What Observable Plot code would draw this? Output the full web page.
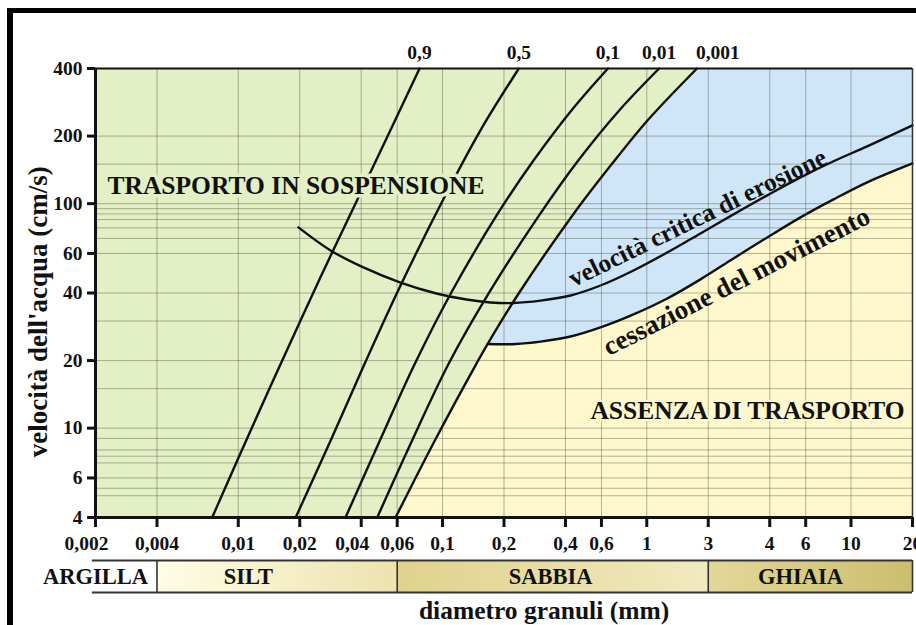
<!DOCTYPE html>
<html><head><meta charset="utf-8">
<script src="https://cdn.jsdelivr.net/npm/d3@7"></script>
<script src="https://cdn.jsdelivr.net/npm/@observablehq/plot@0.6"></script>
<style>
html,body{margin:0;padding:0;background:#fff;}
#wrap{position:relative;width:916px;height:625px;overflow:hidden;background:#fff;}
#wrap svg{display:block;}
#border{position:absolute;left:7px;top:8px;width:2000px;height:2000px;border-left:6px solid #000;border-top:5px solid #000;pointer-events:none;}
</style></head><body><div id="wrap"><div id="border"></div></div>
<script>
// ---------- data ----------
const xTickValues = [0.002, 0.004, 0.01, 0.02, 0.04, 0.06, 0.1, 0.2, 0.4, 0.6, 1, 2, 4, 6, 10, 20];
const xTickLabels = ["0,002", "0,004", "0,01", "0,02", "0,04", "0,06", "0,1", "0,2", "0,4", "0,6", "1", "3", "4", "6", "10", "20"];
const yTickValues = [4, 6, 10, 20, 40, 60, 100, 200, 400];
const yTickLabels = ["4", "6", "10", "20", "40", "60", "100", "200", "400"];
const gridX = [0.004, 0.01, 0.02, 0.04, 0.06, 0.1, 0.2, 0.4, 0.6, 1, 2, 4, 6, 10];
const gridY = [200, 150, 100, 95, 90, 85, 78, 70, 60, 40, 30, 20, 15, 10, 9, 8, 7.5, 7, 6, 5.4, 5];

// settling lines (labelled 0,9 ... 0,001)
const line09X = [0.00745, 0.01208, 0.02015, 0.02913, 0.04486, 0.0772];
const line09Y = [4, 10.8, 30.1, 61.9, 140.8, 400];
const line05X = [0.0191, 0.0283, 0.0415, 0.0623, 0.1023, 0.1534, 0.2364];
const line05Y = [4, 8.79, 19.3, 43.2, 107, 212.2, 400];
const line01X = [0.0335, 0.0493, 0.0731, 0.1096, 0.1863, 0.2795, 0.4286, 0.6454];
const line01Y = [4, 8.79, 19.3, 39.7, 90.2, 156, 260.7, 400];
const line001X = [0.0479, 0.0709, 0.1070, 0.1679, 0.2932, 0.4628, 0.7345, 1.149];
const line001Y = [4, 8.79, 19.3, 39.7, 87.1, 156, 260.7, 400];
const line0001X = [0.0589, 0.0916, 0.1462, 0.1662, 0.2355, 0.4389, 0.6775, 1.0106, 1.761];
const line0001Y = [4, 8.79, 19.3, 23.7, 39.7, 90.2, 150.8, 235.2, 400];
const topLabels = ["0,9", "0,5", "0,1", "0,01", "0,001"];

// velocità critica di erosione
const erosionX = [0.0197, 0.0283, 0.0410, 0.0623, 0.0934, 0.1310, 0.1718, 0.2226, 0.3018, 0.4234, 0.5938, 0.861, 1.259, 1.832, 2.658, 3.888, 5.66, 8.21, 12.0, 20];
const erosionY = [78.4, 61.9, 52.0, 44.5, 39.8, 37.4, 36.3, 36.1, 37.0, 39.0, 43.2, 50.4, 60.6, 73.7, 89.6, 108.9, 131.0, 154.5, 180.0, 223.4];
// cessazione del movimento
const cessX = [0.1662, 0.2278, 0.3018, 0.4234, 0.5938, 0.861, 1.259, 1.832, 2.658, 3.888, 5.66, 8.21, 12.0, 20];
const cessY = [23.7, 23.7, 24.3, 25.6, 28.1, 32.1, 37.8, 46.0, 57.0, 70.7, 86.9, 104.5, 124.5, 151.2];

const regionLabels = ["TRASPORTO IN SOSPENSIONE", "ASSENZA DI TRASPORTO"];
const regionLabelX = [0.00229, 18.3];
const regionLabelY = [120, 11.9];
const curveLabels = ["velocità critica di erosione", "cessazione del movimento"];
const curveLabelX = [1.772, 2.75];
const curveLabelY = [86.5, 45.0];
const curveLabelAngle = [-26, -27];

const bandNames = ["ARGILLA", "SILT", "SABBIA", "GHIAIA"];
const bandEdges = [0.002, 0.004, 0.06, 2, 20];
const bandLabelX = [0.002, 0.0112, 0.338, 5.66];
const yLabel = "velocità dell'acqua (cm/s)";
const yLabelPos = 33;
const xLabel = "diametro granuli (mm)";
const xLabelPos = 0.314;

// ---------- style ----------
const FONT = '"Liberation Serif","Times New Roman",serif';
const GREEN = "#e3efc4", BLUE = "#cfe6f9", CREAM = "#fff8cc", INK = "#111";
const pts = (xs, ys) => xs.map((x, i) => [x, ys[i]]);

const blueX = [...line0001X.slice(3), 20, ...cessX.slice().reverse()];
const blueY = [...line0001Y.slice(3), 400, ...cessY.slice().reverse()];
const creamX = [...line0001X.slice(0, 4), ...cessX.slice(1), 20];
const creamY = [...line0001Y.slice(0, 4), ...cessY.slice(1), 4];

const lines = [[line09X, line09Y], [line05X, line05Y], [line01X, line01Y], [line001X, line001Y], [line0001X, line0001Y]];
const lineStyle = {stroke: INK, strokeWidth: 2.4, curve: "catmull-rom"};
const gridStyle = {stroke: "#4a5240", strokeOpacity: 0.42, strokeWidth: 1};
const txt = {fontWeight: "bold", fill: INK};
const last = a => a[a.length - 1];
const shifted = new Set(["0,002", "0,04"]);
const xLab = xTickLabels.map((t, i) => ({t, x: xTickValues[i]}));

const chart = Plot.plot({
  width: 916, height: 556,
  marginLeft: 95, marginRight: 4, marginTop: 68, marginBottom: 39,
  style: {fontFamily: FONT, fontWeight: "bold", fontSize: "19px", color: INK, background: "transparent"},
  x: {type: "log", domain: [0.002, 20]},
  y: {type: "log", domain: [4, 400]},
  marks: [
    Plot.frame({fill: GREEN, stroke: "none"}),
    Plot.line(pts(blueX, blueY), {fill: BLUE, stroke: "none"}),
    Plot.line(pts(creamX, creamY), {fill: CREAM, stroke: "none"}),
    Plot.ruleX(gridX, gridStyle),
    Plot.ruleY(gridY, gridStyle),
    ...lines.map(([xs, ys]) => Plot.line(pts(xs, ys), lineStyle)),
    Plot.line(pts(erosionX, erosionY), lineStyle),
    Plot.line(pts(cessX, cessY), lineStyle),
    Plot.text(topLabels.slice(0, 4), {x: lines.slice(0, 4).map(([xs]) => last(xs)), y: lines.slice(0, 4).map(([, ys]) => last(ys)), dy: -16, fontSize: 19.5, ...txt}),
    Plot.text(topLabels.slice(4), {x: [last(line0001X)], y: [last(line0001Y)], dy: -16, dx: -1, textAnchor: "start", fontSize: 19.5, ...txt}),
    Plot.text([regionLabels[0]], {x: [regionLabelX[0]], y: [regionLabelY[0]], textAnchor: "start", fontSize: 25.5, ...txt, stroke: GREEN, strokeWidth: 7, paintOrder: "stroke"}),
    Plot.text([regionLabels[1]], {x: [regionLabelX[1]], y: [regionLabelY[1]], textAnchor: "end", fontSize: 25.5, ...txt, stroke: CREAM, strokeWidth: 4, paintOrder: "stroke"}),
    Plot.text([curveLabels[0]], {x: [curveLabelX[0]], y: [curveLabelY[0]], rotate: curveLabelAngle[0], fontSize: 25.5, ...txt}),
    Plot.text([curveLabels[1]], {x: [curveLabelX[1]], y: [curveLabelY[1]], rotate: curveLabelAngle[1], fontSize: 27, ...txt}),
    Plot.text([yLabel], {y: [yLabelPos], frameAnchor: "left", textAnchor: "middle", lineAnchor: "middle", rotate: -90, dx: -57, fontSize: 27, ...txt}),
    Plot.ruleX([20], {stroke: "#333", strokeWidth: 1.5}),
    Plot.ruleY([400], {stroke: INK, strokeWidth: 2.2}),
    Plot.ruleX([0.002], {stroke: INK, strokeWidth: 3}),
    Plot.ruleY([4], {stroke: INK, strokeWidth: 3}),
    Plot.axisX(xTickValues, {tickFormat: () => "", tickSize: 10, strokeWidth: 3, label: null}),
    Plot.axisY(yTickValues, {tickFormat: () => "", tickSize: 8, strokeWidth: 3, label: null}),
    Plot.text(xLab.filter(d => !shifted.has(d.t)), {x: "x", text: "t", frameAnchor: "bottom", lineAnchor: "middle", dy: 26, fontSize: 19.5, ...txt}),
    Plot.text(xLab.filter(d => shifted.has(d.t)), {x: "x", text: "t", frameAnchor: "bottom", lineAnchor: "middle", dy: 26, dx: -9, fontSize: 19.5, ...txt}),
    Plot.text(yTickLabels, {y: yTickValues, frameAnchor: "left", textAnchor: "end", lineAnchor: "middle", dx: -13, fontSize: 19.5, ...txt})
  ]
});

const bandFills = [null, "url(#gSilt)", "url(#gSabbia)", "url(#gGhiaia)"];
const band = Plot.plot({
  width: 916, height: 69,
  marginLeft: 95, marginRight: 4, marginTop: 4, marginBottom: 33,
  style: {fontFamily: FONT, fontWeight: "bold", fontSize: "22px", color: INK, background: "transparent"},
  x: {type: "log", domain: [0.002, 20], axis: null},
  y: {domain: [0, 1], axis: null},
  marks: [
    ...bandNames.map((n, i) => bandFills[i] ? Plot.rect([n], {x1: bandEdges[i], x2: bandEdges[i + 1], y1: 0, y2: 1, fill: bandFills[i]}) : null).filter(Boolean),
    Plot.ruleY([0, 1], {x1: 0.00193, x2: 20, stroke: "#333", strokeWidth: 2}),
    Plot.ruleX(bandEdges.slice(1), {y1: 0, y2: 1, stroke: "#333", strokeWidth: 1.6}),
    Plot.text(bandNames, {x: bandLabelX, y: 0.5, fontSize: 22.5, ...txt}),
    Plot.text([xLabel], {x: [xLabelPos], frameAnchor: "bottom", lineAnchor: "middle", dy: 18, fontSize: 25.5, ...txt})
  ]
});

const defs = d3.select(band).insert("defs", ":first-child");
const grads = [["gSilt", "#fffde6", "#ede3ae"], ["gSabbia", "#dfd28c", "#f1eabf"], ["gGhiaia", "#e2d898", "#ccbe6e"]];
for (const [id, c0, c1] of grads) {
  const g = defs.append("linearGradient").attr("id", id).attr("x1", "0").attr("x2", "1").attr("y1", "0").attr("y2", "0");
  g.append("stop").attr("offset", "0").attr("stop-color", c0);
  g.append("stop").attr("offset", "1").attr("stop-color", c1);
}

const wrap = document.getElementById("wrap");
wrap.insertBefore(band, wrap.firstChild);
wrap.insertBefore(chart, band);
</script></body></html>
